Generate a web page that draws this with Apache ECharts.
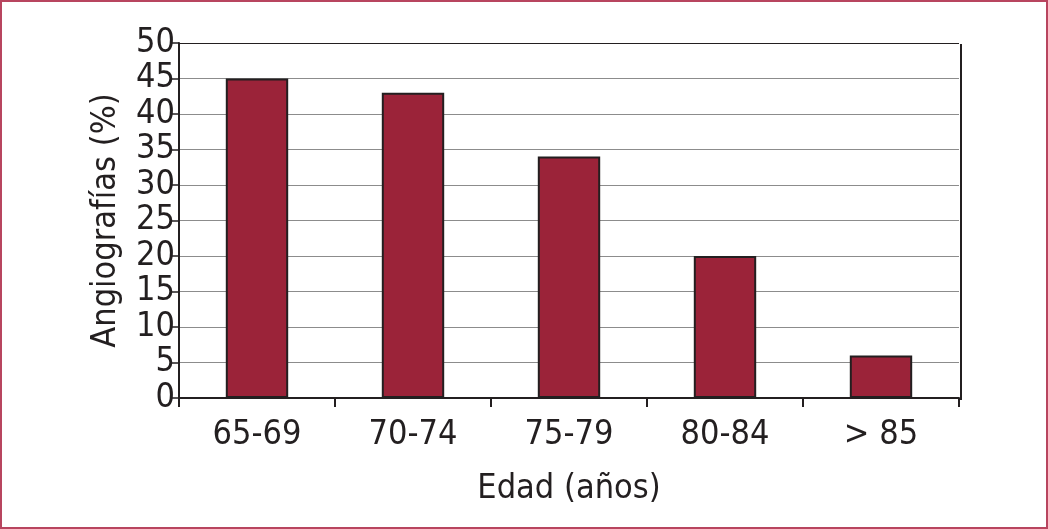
<!DOCTYPE html>
<html>
<head>
<meta charset="utf-8">
<script src="https://cdn.jsdelivr.net/npm/echarts@6/dist/echarts.min.js"></script>
<style>
  html, body { margin: 0; padding: 0; background: #fff; }
  #chart { width: 1048px; height: 529px; box-sizing: border-box; border: 2px solid #b8455f; }
</style>
</head>
<body>
<div id="chart"></div>
<script>
const categories = ['65-69', '70-74', '75-79', '80-84', '> 85'];
const angiografias = [45, 43, 34, 20, 6];
const yTicks = [0, 5, 10, 15, 20, 25, 30, 35, 40, 45, 50];

const font = '"Liberation Sans Narrow", "DejaVu Sans Condensed", sans-serif';
const ink = '#231f20';

const chart = echarts.init(document.getElementById('chart'));

// split lines grey, the top one black like the frame
const splitColors = yTicks.map((v, i) => (i === yTicks.length - 1 ? ink : '#8c8c8c'));

chart.setOption({
  animation: false,
  grid: { left: 177, right: 87, top: 41, bottom: 129 },
  xAxis: {
    type: 'category',
    data: categories,
    name: 'Edad (años)',
    nameLocation: 'middle',
    nameGap: 74,
    nameTextStyle: { fontFamily: font, fontSize: 34, color: ink },
    axisLine: { lineStyle: { color: ink, width: 2 } },
    axisTick: { show: true, length: 9, lineStyle: { color: ink, width: 2 } },
    axisLabel: { fontFamily: font, fontSize: 34, color: ink, margin: 20 }
  },
  yAxis: {
    type: 'value',
    min: 0,
    max: 50,
    interval: 5,
    name: 'Angiografías (%)',
    nameLocation: 'middle',
    nameGap: 56,
    nameTextStyle: { fontFamily: font, fontSize: 34, color: ink },
    axisLine: { show: true, lineStyle: { color: ink, width: 2 } },
    axisTick: { show: true, length: 7, lineStyle: { color: ink, width: 1.5 } },
    axisLabel: { fontFamily: font, fontSize: 34, color: ink, margin: 4 },
    splitLine: { show: true, lineStyle: { color: splitColors, width: 1.2 } }
  },
  graphic: [{
    type: 'line',
    shape: { x1: 959, y1: 42, x2: 959, y2: 398 },
    style: { stroke: ink, lineWidth: 2 }
  }],
  series: [{
    type: 'bar',
    data: angiografias,
    barWidth: '40%',
    itemStyle: { color: '#9b2339', borderColor: ink, borderWidth: 2 }
  }]
});
</script>
</body>
</html>
